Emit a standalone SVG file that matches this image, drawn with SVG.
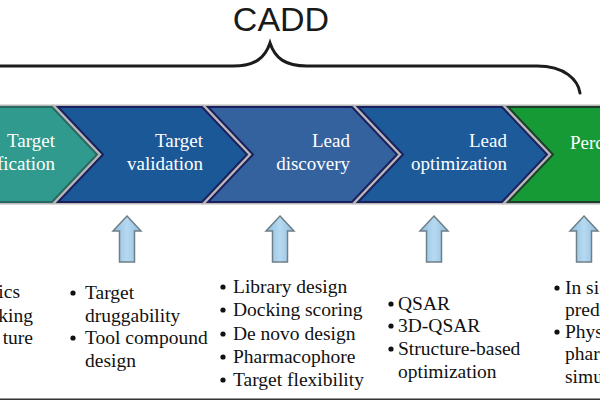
<svg xmlns="http://www.w3.org/2000/svg" width="600" height="400" viewBox="0 0 600 400">
<style>
.ct{font-family:"Liberation Serif","Times New Roman",serif;font-size:19px;fill:#ffffff}
.lt{font-family:"Liberation Serif","Times New Roman",serif;font-size:19.5px;fill:#111111}
.shadow{fill:none;stroke:#b8b8b8;stroke-width:5;stroke-linejoin:miter}
.edge{stroke-width:2;stroke-linejoin:miter}
.up{fill:url(#upg);stroke:#6f7f86;stroke-width:1.5;stroke-linejoin:miter}
.brace{fill:none;stroke:#1c1c1c;stroke-width:3;stroke-linecap:round}
</style>
<defs>
<path id="chev" d="M58,107 L202,107 L247,154.5 L202,202 L58,202 L103,154.5 Z"/>
<path id="uparrow" d="M0,216 L14,231 L7.5,231 L7.5,262 L-7.5,262 L-7.5,231 L-14,231 Z"/>
<linearGradient id="upg" x1="0" y1="0" x2="1" y2="0">
<stop offset="0" stop-color="#8fbde0"/>
<stop offset="0.5" stop-color="#b6d9f1"/>
<stop offset="1" stop-color="#8fbde0"/>
</linearGradient>
</defs>
<rect width="600" height="400" fill="#ffffff"/>

<g id="brace">
<text x="281" y="31" text-anchor="middle" style="font-family:'Liberation Sans',Arial,sans-serif;font-size:34px;fill:#1a1a1a">CADD</text>
<path class="brace" d="M-40,93 C-38,80 -25,66 3,66 L233,66 C255,66 265,58 270,43 C275,58 285,66 307,66 L537,66 C565,66 578,80 580,93"/>
</g>

<g id="chevron-target-identification" transform="translate(-150,0)">
<use href="#chev" class="shadow"/>
<use href="#chev" class="edge" fill="#2f9a8d" stroke="#2b6762"/>
<text class="ct" x="205" y="147" text-anchor="end">Target</text>
<text class="ct" x="205" y="170" text-anchor="end">fication</text>
</g>
<g id="chevron-target-validation">
<use href="#chev" class="shadow"/>
<use href="#chev" class="edge" fill="#1b5897" stroke="#1c1f5e"/>
<text class="ct" x="203" y="147" text-anchor="end">Target</text>
<text class="ct" x="203" y="170" text-anchor="end">validation</text>
</g>
<g id="chevron-lead-discovery" transform="translate(150,0)">
<use href="#chev" class="shadow"/>
<use href="#chev" class="edge" fill="#34629f" stroke="#1c1f5e"/>
<text class="ct" x="200" y="147" text-anchor="end">Lead</text>
<text class="ct" x="200" y="170" text-anchor="end">discovery</text>
</g>
<g id="chevron-lead-optimization" transform="translate(300,0)">
<use href="#chev" class="shadow"/>
<use href="#chev" class="edge" fill="#1c5a9a" stroke="#1c1f5e"/>
<text class="ct" x="207" y="147" text-anchor="end">Lead</text>
<text class="ct" x="207" y="170" text-anchor="end">optimization</text>
</g>
<g id="chevron-perc" transform="translate(450,0)">
<use href="#chev" class="shadow"/>
<use href="#chev" class="edge" fill="#169a35" stroke="#1d3d2d"/>
<text class="ct" x="120" y="149">Perc</text>
</g>

<g id="connectors">
<use href="#uparrow" class="up" transform="translate(127,0)"/>
<use href="#uparrow" class="up" transform="translate(280,0)"/>
<use href="#uparrow" class="up" transform="translate(434,0)"/>
<use href="#uparrow" class="up" transform="translate(584,0)"/>
</g>

<g id="list-identification">
<text class="lt" x="20" y="298" text-anchor="end">ics</text>
<text class="lt" x="33" y="322" text-anchor="end">king</text>
<text class="lt" x="33" y="344" text-anchor="end">ture</text>
</g>
<g id="list-validation" fill="#111111">
<circle cx="73" cy="293" r="2.6"/>
<text class="lt" x="85" y="299">Target</text>
<text class="lt" x="85" y="322">druggability</text>
<circle cx="73" cy="338" r="2.6"/>
<text class="lt" x="85" y="344">Tool compound</text>
<text class="lt" x="85" y="367">design</text>
</g>
<g id="list-discovery" fill="#111111">
<circle cx="223" cy="287" r="2.6"/>
<text class="lt" x="233" y="293">Library design</text>
<circle cx="223" cy="310" r="2.6"/>
<text class="lt" x="233" y="316">Docking scoring</text>
<circle cx="223" cy="334" r="2.6"/>
<text class="lt" x="233" y="340">De novo design</text>
<circle cx="223" cy="357" r="2.6"/>
<text class="lt" x="233" y="363">Pharmacophore</text>
<circle cx="223" cy="380" r="2.6"/>
<text class="lt" x="233" y="386">Target flexibility</text>
</g>
<g id="list-optimization" fill="#111111">
<circle cx="391" cy="304" r="2.6"/>
<text class="lt" x="398" y="310">QSAR</text>
<circle cx="391" cy="326" r="2.6"/>
<text class="lt" x="398" y="332">3D-QSAR</text>
<circle cx="391" cy="349" r="2.6"/>
<text class="lt" x="398" y="355">Structure-based</text>
<text class="lt" x="398" y="378">optimization</text>
</g>
<g id="list-perc" fill="#111111">
<circle cx="557" cy="288" r="2.6"/>
<text class="lt" x="565" y="294">In si</text>
<text class="lt" x="565" y="316">pred</text>
<circle cx="557" cy="332" r="2.6"/>
<text class="lt" x="565" y="338">Phys</text>
<text class="lt" x="565" y="360">phar</text>
<text class="lt" x="565" y="383">simu</text>
</g>
<rect x="0" y="398.5" width="600" height="1.5" fill="#333333"/>
</svg>
